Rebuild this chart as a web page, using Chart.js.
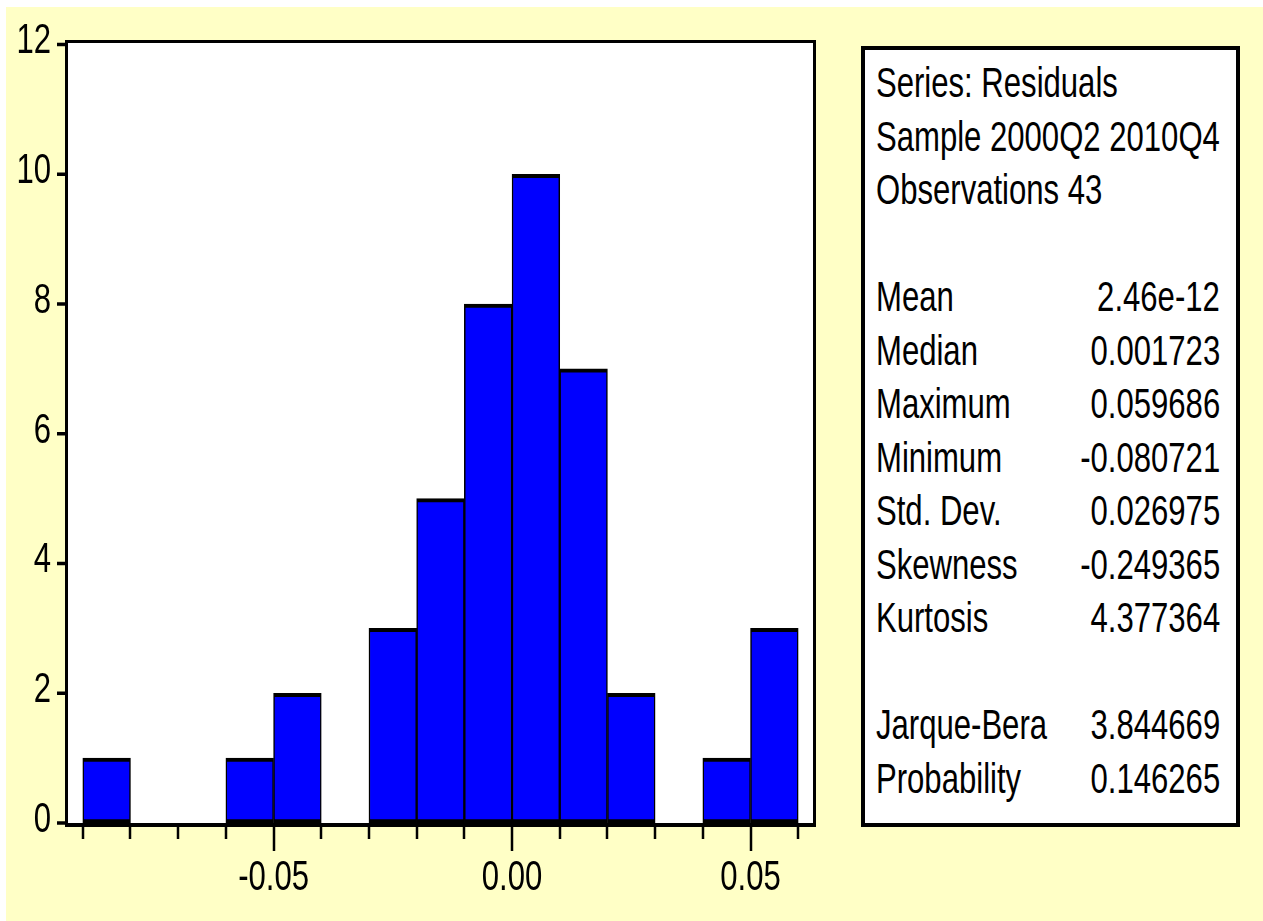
<!DOCTYPE html>
<html>
<head>
<meta charset="utf-8">
<script src="https://cdn.jsdelivr.net/npm/chart.js@4"></script>
<style>
  html, body { margin: 0; padding: 0; background: #ffffff; }
  #page { position: relative; width: 1263px; height: 921px; overflow: hidden; }
  #paper { position: absolute; left: 6px; top: 7px; right: 0; bottom: 0; background: #ffffc6; }
  #myChart { position: absolute; left: 0; top: 0; }
  #stats {
    position: absolute; left: 861px; top: 46px; width: 379px; height: 781px;
    box-sizing: border-box; border: 4px solid #000; background: #fff;
  }
  .lbl, .val {
    position: absolute; font-family: "Liberation Sans", Arial, sans-serif;
    font-size: 42px; line-height: 42px; color: #000; white-space: nowrap;
  }
  .lbl { transform: scaleX(0.74); transform-origin: left top; }
  .val { transform: scaleX(0.74); transform-origin: right top; text-align: right; }
</style>
</head>
<body>
<div id="page">
  <div id="paper"></div>
  <canvas id="myChart" width="1263" height="921"></canvas>
  <div id="stats"></div>
</div>
<script>
// histogram data (bin centres, counts)
const binCenters = [-0.085, -0.075, -0.065, -0.055, -0.045, -0.035, -0.025, -0.015, -0.005, 0.005, 0.015, 0.025, 0.035, 0.045, 0.055];
const counts = [1, 0, 0, 1, 2, 0, 3, 5, 8, 10, 7, 2, 0, 1, 3];

// axis ticks
const yTicks = [0, 2, 4, 6, 8, 10, 12];
const xMinorTicks = [-0.09, -0.08, -0.07, -0.06, -0.05, -0.04, -0.03, -0.02, -0.01, 0.00, 0.01, 0.02, 0.03, 0.04, 0.05, 0.06];
const xMajorTicks = [-0.05, 0.00, 0.05];
const xMajorLabels = ['-0.05', '0.00', '0.05'];

// stats panel text
const headerLines = ['Series: Residuals', 'Sample 2000Q2 2010Q4', 'Observations 43'];
const statNames = ['Mean', 'Median', 'Maximum', 'Minimum', 'Std. Dev.', 'Skewness', 'Kurtosis'];
const statValues = ['2.46e-12', '0.001723', '0.059686', '-0.080721', '0.026975', '-0.249365', '4.377364'];
const testNames = ['Jarque-Bera', 'Probability'];
const testValues = ['3.844669', '0.146265'];

const FONT = '42px "Liberation Sans", Arial, sans-serif';
const SQUISH = 0.74;

function squishText(ctx, text, x, y, align) {
     ctx.save();
     ctx.translate(x, y);
     ctx.scale(SQUISH, 1);
     ctx.textAlign = align;
     ctx.textBaseline = 'alphabetic';
     ctx.fillText(text, 0, 0);
     ctx.restore();
}

// frame, ticks and tick labels drawn off the chart's own scales
const framePlugin = {
     id: 'framePlugin',
     beforeDatasetsDraw(chart) {
          const { ctx, chartArea: a } = chart;
          ctx.save();
          ctx.fillStyle = '#ffffff';
          ctx.fillRect(a.left, a.top, a.right - a.left, a.bottom - a.top);
          ctx.restore();
     },
     afterDatasetsDraw(chart) {
          const { ctx, chartArea: a } = chart;
          const xs = chart.scales.x;
          const ys = chart.scales.y;
          ctx.save();
          ctx.strokeStyle = '#000';
          ctx.fillStyle = '#000';

          // frame
          ctx.fillRect(a.left - 3, a.top - 3, a.right - a.left + 6, 3);   // top
          ctx.fillRect(a.left - 3, a.top - 3, 3, a.bottom - a.top + 7);   // left
          ctx.fillRect(a.right, a.top - 3, 3, a.bottom - a.top + 7);      // right
          ctx.fillRect(a.left - 3, a.bottom, a.right - a.left + 6, 4);    // bottom

          // y ticks
          ctx.lineWidth = 3.5;
          yTicks.forEach(v => {
               const y = ys.getPixelForValue(v);
               ctx.beginPath();
               ctx.moveTo(57, y);
               ctx.lineTo(a.left - 3, y);
               ctx.stroke();
          });

          // x ticks
          ctx.lineWidth = 2.5;
          xMinorTicks.forEach(v => {
               const x = Math.round(xs.getPixelForValue(v));
               const major = xMajorTicks.some(m => Math.abs(m - v) < 1e-9);
               ctx.beginPath();
               ctx.moveTo(x, a.bottom + 4);
               ctx.lineTo(x, major ? 851 : 839);
               ctx.stroke();
          });

          // labels
          ctx.font = FONT;
          yTicks.forEach(v => {
               squishText(ctx, String(v), 51, ys.getPixelForValue(v) + 9, 'right');
          });
          xMajorTicks.forEach((v, i) => {
               squishText(ctx, xMajorLabels[i], xs.getPixelForValue(v), 890, 'center');
          });
          ctx.restore();
     }
};

const ctx = document.getElementById('myChart').getContext('2d');
const chart = new Chart(ctx, {
     type: 'bar',
     data: {
          datasets: [{
               data: binCenters.map((x, i) => ({ x: x, y: counts[i] })),
               backgroundColor: '#0000ff',
               borderColor: '#000000',
               borderWidth: { top: 4, bottom: 4, left: 1.5, right: 1.5 },
               borderSkipped: false,
               barPercentage: 1,
               categoryPercentage: 1
          }]
     },
     options: {
          responsive: false,
          animation: false,
          events: [],
          layout: {
               padding: { left: 68, top: 43, right: 1263 - 813, bottom: 921 - 823 }
          },
          plugins: {
               legend: { display: false },
               tooltip: { enabled: false }
          },
          scales: {
               x: { type: 'linear', min: -0.0931, max: 0.0631, offset: false, display: false },
               y: { min: 0, max: 12.023, display: false }
          }
     },
     plugins: [framePlugin]
});

// stats panel (html text)
const stats = document.getElementById('stats');
const LEFT = 876 - 865, RIGHT = 1240 - 4 - 1220;   // inside border
const LINE = 53.5, FIRST_BASE = 97, ASC = 34.7;
function addLine(k, label, value) {
     const top = FIRST_BASE + LINE * k - ASC - 50;
     const l = document.createElement('div');
     l.className = 'lbl';
     l.style.left = LEFT + 'px';
     l.style.top = top + 'px';
     l.textContent = label;
     stats.appendChild(l);
     if (value !== undefined) {
          const v = document.createElement('div');
          v.className = 'val';
          v.style.right = RIGHT + 'px';
          v.style.top = top + 'px';
          v.textContent = value;
          stats.appendChild(v);
     }
}
headerLines.forEach((t, i) => addLine(i, t));
statNames.forEach((t, i) => addLine(4 + i, t, statValues[i]));
testNames.forEach((t, i) => addLine(12 + i, t, testValues[i]));
</script>
</body>
</html>
